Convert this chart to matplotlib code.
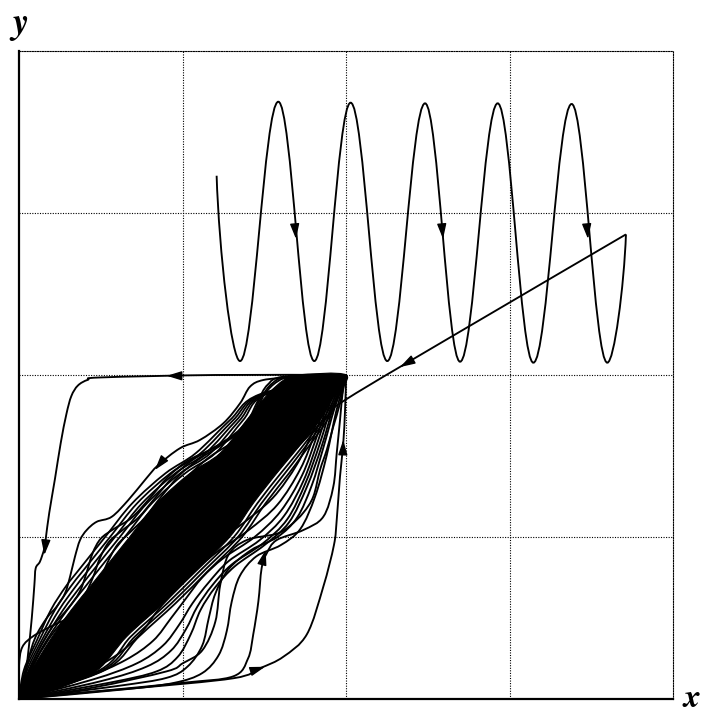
import numpy as np
import matplotlib
matplotlib.use("Agg")
import matplotlib.pyplot as plt
from matplotlib.path import Path
from matplotlib.patches import PathPatch

# --- values (data units, grid step = 1) ---
# sine-like trajectory: start, alternating troughs/peaks, end
wave = [(1.208, 3.23), (1.351, 2.086), (1.585, 3.687), (1.805, 2.086), (2.027, 3.681),
        (2.251, 2.086), (2.482, 3.677), (2.696, 2.082), (2.926, 3.677), (3.144, 2.076),
        (3.378, 3.673), (3.596, 2.076), (3.71, 2.868)]
# straight return from the wave end into the band
ramp = [(3.71, 2.868), (2.75, 2.30), (2.0, 1.85), (1.88, 1.74), (1.6, 1.45),
        (1.2, 1.05), (0.7, 0.6), (0.3, 0.25), (0.0, 0.0)]

# solid black core between the two families
band_upper = [(0, 0), (0.03, 0.06), (0.08, 0.179), (0.19, 0.364), (0.32, 0.55),
              (0.434, 0.693), (0.515, 0.796), (0.678, 1.002), (0.842, 1.208),
              (1.045, 1.393), (1.229, 1.517), (1.392, 1.722), (1.52, 1.88), (1.62, 1.97),
              (1.70, 2.0), (2, 2)]
band_lower = [(2, 2), (1.92, 1.86), (1.84, 1.722), (1.677, 1.517), (1.575, 1.393),
              (1.432, 1.208), (1.29, 1.002), (1.086, 0.796), (0.882, 0.591), (0.658, 0.385),
              (0.48, 0.179), (0.25, 0.07), (0.05, 0.01), (0, 0)]

# closely packed trajectories along the edges of the core (x at the listed heights)
fine_upper_y = [0.179, 0.364, 0.55, 0.693, 0.796, 1.002, 1.208, 1.393, 1.517, 1.722, 1.88]
fine_upper_x = [
    [0.07, 0.17, 0.295, 0.405, 0.485, 0.648, 0.812, 1.015, 1.20, 1.37, 1.51],
    [0.06, 0.155, 0.27, 0.375, 0.455, 0.618, 0.782, 0.985, 1.17, 1.35, 1.50],
    [0.05, 0.14, 0.245, 0.345, 0.425, 0.588, 0.752, 0.955, 1.14, 1.33, 1.49],
    [0.04, 0.125, 0.22, 0.315, 0.395, 0.558, 0.722, 0.925, 1.11, 1.31, 1.48],
    [0.03, 0.11, 0.195, 0.285, 0.365, 0.528, 0.692, 0.895, 1.08, 1.29, 1.47],
]
fine_lower_y = [0.179, 0.385, 0.591, 0.796, 1.002, 1.208, 1.393, 1.517, 1.722, 1.86]
fine_lower_x = [
    [0.495, 0.683, 0.907, 1.111, 1.315, 1.457, 1.60, 1.70, 1.855, 1.93],
    [0.51, 0.708, 0.932, 1.136, 1.34, 1.482, 1.625, 1.72, 1.87, 1.94],
    [0.525, 0.733, 0.957, 1.161, 1.365, 1.507, 1.65, 1.74, 1.885, 1.95],
]

# upper family (from (2,2) to the origin)
curve_a = [(2, 2), (1.2, 2.0), (0.50, 1.985), (0.42, 1.97), (0.36, 1.935), (0.32, 1.87),
           (0.29, 1.76), (0.255, 1.58), (0.220, 1.36), (0.185, 1.15), (0.165, 1.002),
           (0.155, 0.930), (0.128, 0.848), (0.102, 0.807), (0.094, 0.704), (0.078, 0.498),
           (0.057, 0.292), (0.037, 0.128), (0.017, 0.025), (0, 0)]
curve_d = [(2, 2), (1.80, 2.0), (1.657, 1.986), (1.493, 1.969), (1.412, 1.928), (1.351, 1.825),
           (1.249, 1.702), (1.106, 1.599), (0.984, 1.548), (0.851, 1.444), (0.770, 1.352),
           (0.668, 1.228), (0.567, 1.125), (0.475, 1.094), (0.414, 1.043), (0.373, 0.981),
           (0.342, 0.878), (0.312, 0.755), (0.281, 0.652), (0.23, 0.57), (0.17, 0.50),
           (0.10, 0.38), (0.05, 0.22), (0, 0)]
curve_c = [(0, 0), (0, 0.2), (0.02, 0.32), (0.09, 0.39), (0.2, 0.45), (0.3, 0.5), (0.45, 0.6),
           (0.6, 0.72), (0.8, 0.9), (1.0, 1.1), (1.3, 1.4), (1.6, 1.75), (2, 2)]
curve_h = [(2, 2), (1.62, 1.99), (1.52, 1.94), (1.46, 1.84), (1.4, 1.72), (1.31, 1.63),
           (1.17, 1.54), (1.03, 1.47), (0.91, 1.37), (0.8, 1.24), (0.69, 1.12), (0.58, 1.05),
           (0.5, 0.99), (0.45, 0.9), (0.41, 0.77), (0.37, 0.66), (0.3, 0.56), (0.2, 0.44),
           (0.1, 0.26), (0, 0)]
curve_g0 = [(2, 2), (1.65, 1.99), (1.55, 1.95), (1.48, 1.86), (1.42, 1.74), (1.34, 1.645),
            (1.2, 1.555), (1.06, 1.475), (0.945, 1.375), (0.835, 1.245), (0.73, 1.12),
            (0.63, 1.04), (0.55, 0.97), (0.495, 0.87), (0.45, 0.745), (0.4, 0.64),
            (0.32, 0.535), (0.21, 0.41), (0.105, 0.24), (0, 0)]
curve_g1 = [(2, 2), (1.68, 1.99), (1.58, 1.96), (1.5, 1.88), (1.44, 1.76), (1.36, 1.66),
            (1.24, 1.57), (1.1, 1.48), (0.98, 1.38), (0.87, 1.25), (0.77, 1.12), (0.68, 1.03),
            (0.6, 0.95), (0.54, 0.84), (0.49, 0.72), (0.43, 0.62), (0.34, 0.51), (0.22, 0.38),
            (0.11, 0.22), (0, 0)]
curve_g2 = [(2, 2), (1.74, 1.99), (1.64, 1.95), (1.57, 1.86), (1.51, 1.75), (1.42, 1.66),
            (1.3, 1.58), (1.16, 1.49), (1.04, 1.38), (0.94, 1.25), (0.84, 1.12), (0.75, 1.02),
            (0.67, 0.94), (0.61, 0.83), (0.56, 0.72), (0.5, 0.63), (0.41, 0.53), (0.29, 0.41),
            (0.15, 0.25), (0, 0)]
curve_g3 = [(2, 2), (1.78, 1.99), (1.69, 1.94), (1.62, 1.85), (1.56, 1.75), (1.47, 1.67),
            (1.35, 1.59), (1.22, 1.5), (1.1, 1.38), (1.0, 1.25), (0.9, 1.12), (0.81, 1.02),
            (0.73, 0.94), (0.67, 0.83), (0.62, 0.73), (0.56, 0.64), (0.47, 0.55), (0.36, 0.44),
            (0.2, 0.28), (0, 0)]

# lower family (from the origin to (2,2))
curve_e1 = [(0, 0), (0.21, 0.025), (0.70, 0.066), (1.31, 0.128), (1.473, 0.19), (1.616, 0.261),
            (1.76, 0.40), (1.86, 0.693), (1.925, 0.95), (1.942, 1.105), (1.962, 1.372),
            (1.982, 1.578), (1.993, 1.784), (2, 2)]
curve_e2 = [(0, 0), (0.5, 0.05), (1.0, 0.1), (1.31, 0.14), (1.40, 0.25), (1.432, 0.40),
            (1.463, 0.601), (1.483, 0.807), (1.514, 0.899), (1.575, 0.981), (1.738, 1.043),
            (1.86, 1.125), (1.921, 1.31), (1.942, 1.517), (1.962, 1.72), (1.982, 1.928), (2, 2)]
curve_e3 = [(0, 0), (0.45, 0.07), (0.9, 0.17), (1.0, 0.22), (1.12, 0.30), (1.20, 0.477),
            (1.23, 0.704), (1.28, 0.889), (1.392, 0.981), (1.575, 1.02), (1.657, 1.07),
            (1.738, 1.15), (1.799, 1.25), (1.84, 1.414), (1.881, 1.537), (1.921, 1.681),
            (1.962, 1.825), (2, 2)]
curve_f1 = [(0, 0), (0.30, 0.14), (0.50, 0.26), (0.66, 0.40), (0.78, 0.55), (0.88, 0.66),
            (1.0, 0.78), (1.15, 0.92), (1.35, 1.07), (1.55, 1.24), (1.70, 1.45), (1.80, 1.66),
            (1.88, 1.85), (2, 2)]
curve_f2 = [(0, 0), (0.35, 0.14), (0.58, 0.26), (0.74, 0.40), (0.85, 0.55), (0.95, 0.66),
            (1.07, 0.78), (1.2, 0.9), (1.4, 1.04), (1.58, 1.2), (1.72, 1.42), (1.81, 1.64),
            (1.89, 1.85), (2, 2)]
curve_f3 = [(0, 0), (0.40, 0.13), (0.65, 0.24), (0.82, 0.36), (0.93, 0.50), (1.02, 0.62),
            (1.12, 0.75), (1.25, 0.87), (1.44, 1.0), (1.6, 1.16), (1.73, 1.38), (1.82, 1.62),
            (1.9, 1.85), (2, 2)]
curve_f4 = [(0, 0), (0.45, 0.12), (0.72, 0.22), (0.88, 0.33), (0.98, 0.46), (1.06, 0.59),
            (1.16, 0.72), (1.28, 0.85), (1.47, 0.98), (1.62, 1.13), (1.74, 1.35), (1.83, 1.6),
            (1.91, 1.85), (2, 2)]
curve_f5 = [(0, 0), (0.5, 0.11), (0.78, 0.20), (0.93, 0.30), (1.02, 0.43), (1.09, 0.57),
            (1.18, 0.70), (1.3, 0.83), (1.49, 0.96), (1.64, 1.11), (1.75, 1.33), (1.84, 1.58),
            (1.92, 1.84), (2, 2)]
curve_f6 = [(0, 0), (0.55, 0.10), (0.84, 0.17), (0.97, 0.26), (1.05, 0.40), (1.11, 0.55),
            (1.2, 0.69), (1.32, 0.82), (1.5, 0.95), (1.65, 1.09), (1.76, 1.31), (1.85, 1.56),
            (1.93, 1.83), (2, 2)]
curve_f7 = [(0, 0), (0.6, 0.08), (0.9, 0.13), (1.03, 0.2), (1.12, 0.33), (1.16, 0.5),
            (1.2, 0.65), (1.28, 0.8), (1.42, 0.92), (1.58, 1.0), (1.7, 1.12), (1.79, 1.32),
            (1.86, 1.55), (1.93, 1.8), (2, 2)]
curve_f8 = [(0, 0), (0.65, 0.06), (0.95, 0.10), (1.12, 0.16), (1.22, 0.27), (1.27, 0.42),
            (1.30, 0.60), (1.35, 0.76), (1.45, 0.88), (1.60, 0.95), (1.72, 1.05), (1.81, 1.25),
            (1.88, 1.5), (1.94, 1.78), (2, 2)]

# arrowheads: (tail, tip)
arrows = [((1.686, 2.92), (1.693, 2.84)), ((2.585, 2.92), (2.592, 2.84)),
          ((3.471, 2.92), (3.478, 2.84)), ((2.40, 2.09), (2.329, 2.049)),
          ((0.97, 1.995), (0.903, 1.995)), ((0.162, 0.96), (0.155, 0.889)),
          ((0.872, 1.465), (0.831, 1.414)), ((1.443, 0.179), (1.504, 0.199)),
          ((1.980, 1.53), (1.982, 1.60)), ((1.49, 0.85), (1.508, 0.92))]

K = 0.364  # bezier handle for a half sine


def smooth_path(pts):
    pts = np.asarray(pts, float)
    n = len(pts)
    verts, codes = [pts[0]], [Path.MOVETO]
    for i in range(n - 1):
        p0 = pts[max(i - 1, 0)]
        p1, p2 = pts[i], pts[i + 1]
        p3 = pts[min(i + 2, n - 1)]
        verts += [p1 + (p2 - p0) / 6, p2 - (p3 - p1) / 6, p2]
        codes += [Path.CURVE4] * 3
    return Path(verts, codes)


def wave_path(pts):
    pts = np.asarray(pts, float)
    n = len(pts)
    verts, codes = [pts[0]], [Path.MOVETO]
    for i in range(n - 1):
        p1, p2 = pts[i], pts[i + 1]
        dx, dy = p2 - p1
        c1 = p1 + (0.1 * dx, 0.4 * dy) if i == 0 else p1 + (K * dx, 0)
        c2 = p2 - (0.1 * dx, 0.4 * dy) if i == n - 2 else p2 - (K * dx, 0)
        verts += [c1, c2, p2]
        codes += [Path.CURVE4] * 3
    return Path(verts, codes)


fig = plt.figure(figsize=(7.06, 7.16), dpi=100)
ax = fig.add_axes([19 / 706, 17 / 716, 654.4 / 706, 648 / 716])
ax.set_xlim(0, 4)
ax.set_ylim(0, 4)
ax.set_xticks([1, 2, 3])
ax.set_yticks([1, 2, 3])
ax.tick_params(length=0, labelbottom=False, labelleft=False)
ax.grid(True, ls=(0, (1, 1.3)), color="k", lw=0.8)
for s in ("left", "bottom"):
    ax.spines[s].set_linewidth(1.6)
for s in ("top", "right"):
    ax.spines[s].set_linestyle((0, (1, 1.3)))
    ax.spines[s].set_linewidth(0.8)

ax.add_patch(PathPatch(smooth_path(band_upper + band_lower[1:]), fc="k", ec="k", lw=0.8))

fine = [list(zip(xs, fine_upper_y)) for xs in fine_upper_x]
fine += [list(zip(xs, fine_lower_y)) for xs in fine_lower_x]
for c in fine:
    ax.add_patch(PathPatch(smooth_path([(0, 0)] + c + [(2, 2)]), fc="none", ec="k", lw=1.3))

lines = [curve_a, curve_d, curve_c, curve_h, curve_g0, curve_g1, curve_g2, curve_g3,
         curve_e1, curve_e2, curve_e3, curve_f1, curve_f2, curve_f3, curve_f4,
         curve_f5, curve_f6, curve_f7, curve_f8, ramp]
for c in lines:
    ax.add_patch(PathPatch(smooth_path(c), fc="none", ec="k", lw=1.35))
ax.add_patch(PathPatch(wave_path(wave), fc="none", ec="k", lw=1.35))

for tail, tip in arrows:
    ax.annotate("", xy=tip, xytext=tail,
                arrowprops=dict(arrowstyle="-|>,head_length=0.65,head_width=0.2",
                                color="k", lw=1.0, mutation_scale=14,
                                shrinkA=0, shrinkB=0))

fig.text(19 / 706, 1 - 33 / 716, r"$\mathbfit{y}$", fontsize=26, math_fontfamily="cm",
         ha="center", va="baseline")
fig.text(692 / 706, 1 - 707 / 716, r"$\mathbfit{x}$", fontsize=24, math_fontfamily="cm",
         ha="center", va="baseline")

fig.savefig("out.png", dpi=100)
